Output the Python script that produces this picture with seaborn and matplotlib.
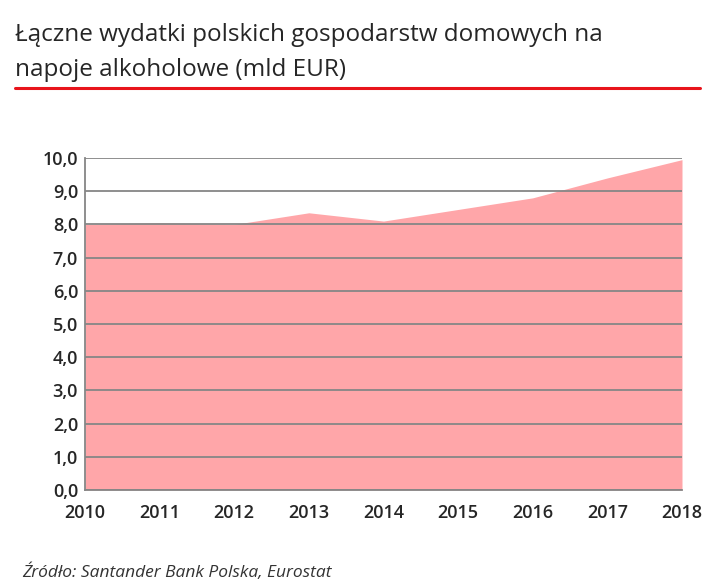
import matplotlib
matplotlib.use("Agg")
import matplotlib.pyplot as plt
import seaborn as sns
import pandas as pd
from matplotlib.lines import Line2D

years = [2010, 2011, 2012, 2013, 2014, 2015, 2016, 2017, 2018]
values = [8.0, 8.05, 8.0, 8.35, 8.1, 8.45, 8.8, 9.4, 9.95]
yticks = [i for i in range(0, 11)]

sns.set_style("white")
plt.rcParams['font.family'] = ['Open Sans', 'DejaVu Sans']

df = pd.DataFrame({"year": years, "value": values})
fig = plt.figure(figsize=(7.23, 5.86), dpi=100)
ax = fig.add_axes([85/723, 1-490/586, (682-85)/723, (490-158)/586])
sns.lineplot(data=df, x="year", y="value", ax=ax, color="#ffa6a9", linewidth=0)
ax.fill_between(df["year"], df["value"], color="#ffa6a9", linewidth=0, zorder=1)
ax.set_xlim(2010, 2018)
ax.set_ylim(0, 10)
ax.set_yticks(yticks)
ax.set_yticklabels([f"{v:.1f}".replace(".", ",") for v in yticks])
ax.set_xticks(years)
ax.set_xticklabels([str(y) for y in years])
ax.yaxis.grid(True, color="#868686", linewidth=1.3, zorder=2)
ax.set_axisbelow(False)
for s in ["top", "right"]:
    ax.spines[s].set_visible(False)
for s in ["left", "bottom"]:
    ax.spines[s].set_color("#868686")
    ax.spines[s].set_linewidth(1.3)
ax.tick_params(axis="both", labelsize=13, length=0, pad=5)
ax.tick_params(axis="x", length=5, color="#868686", direction="out")
for lab in ax.get_xticklabels() + ax.get_yticklabels():
    lab.set_fontweight("semibold")
ax.set_xlabel("")
ax.set_ylabel("")

fig.text(15/723, 1-35/586, "Łączne wydatki polskich gospodarstw domowych na", fontsize=17.5, va="center", ha="left")
fig.text(15/723, 1-70/586, "napoje alkoholowe (mld EUR)", fontsize=17.5, va="center", ha="left")
fig.add_artist(Line2D([15/723, 700/723], [1-88/586, 1-88/586], color="#e8141c", linewidth=2.2, transform=fig.transFigure))
fig.text(22/723, 1-572/586, "Źródło: Santander Bank Polska, Eurostat", fontsize=12.5, style="italic", color="#333333", va="center", ha="left")

fig.savefig("out.png", dpi=100)
